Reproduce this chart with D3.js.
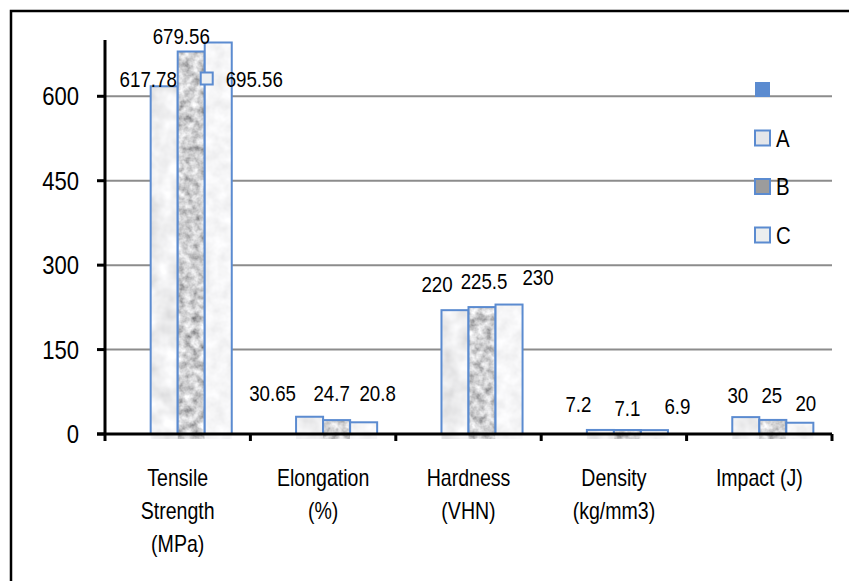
<!DOCTYPE html>
<html>
<head>
<meta charset="utf-8">
<script src="https://cdn.jsdelivr.net/npm/d3@7"></script>
<style>
  body { margin: 0; background: #fff; }
  svg text { font-family: "Liberation Sans", Arial, sans-serif; fill: #000; }
</style>
</head>
<body>
<div id="chart"></div>
<script>
// values
var categories = ["Tensile Strength (MPa)", "Elongation (%)", "Hardness (VHN)", "Density (kg/mm3)", "Impact (J)"];
var categoryLines = [["Tensile", "Strength", "(MPa)"], ["Elongation", "(%)"], ["Hardness", "(VHN)"], ["Density", "(kg/mm3)"], ["Impact (J)"]];
var seriesNames = ["", "A", "B", "C"];
var valuesA = [617.78, 30.65, 220, 7.2, 30];
var valuesB = [679.56, 24.7, 225.5, 7.1, 25];
var valuesC = [695.56, 20.8, 230, 6.9, 20];
var yTicks = [0, 150, 300, 450, 600];

var width = 849, height = 581;
var margin = { top: 40, left: 105, right: 17, bottom: 147 };
var blue = "#5b8bd0";
var squeeze = 0.85; // the original font is narrower than Arial

// place a text at (x, y) and squeeze it horizontally
const at = (x, y) => `translate(${x},${y}) scale(${squeeze},1)`;

var svg = d3.select("#chart").append("svg")
  .attr("width", width)
  .attr("height", height);

// textures for the three series
var defs = svg.append("defs");
var tex = [
  { id: "texA", a: 0.45, b: 0.64, f: 0.05, seed: 3 },
  { id: "texB", a: 1.1, b: 0.08, f: 0.13, seed: 7 },
  { id: "texC", a: 0.22, b: 0.81, f: 0.08, seed: 11 }
];
tex.forEach(t => {
  var f = defs.append("filter").attr("id", t.id)
    .attr("x", 0).attr("y", 0).attr("width", 1).attr("height", 1);
  f.append("feTurbulence").attr("type", "fractalNoise")
    .attr("baseFrequency", t.f).attr("numOctaves", 3).attr("seed", t.seed).attr("result", "n");
  var m = `${t.a} 0 0 0 ${t.b} ${t.a} 0 0 0 ${t.b} ${t.a} 0 0 0 ${t.b + 0.01} 0 0 0 0 1`;
  f.append("feColorMatrix").attr("in", "n").attr("type", "matrix").attr("values", m).attr("result", "g");
  f.append("feComposite").attr("in", "g").attr("in2", "SourceGraphic").attr("operator", "in");
});

// outer frame (cut off on the right and bottom)
svg.append("path")
  .attr("d", `M11,${height + 5}V11H${width + 5}`)
  .attr("fill", "none").attr("stroke", "#000").attr("stroke-width", 2.5);

var x0 = d3.scaleBand().domain(categories).range([margin.left, width - margin.right]);
var x1 = d3.scaleBand().domain(seriesNames).range([0, x0.bandwidth()]).paddingOuter(0.69);
var y = d3.scaleLinear().domain([0, 700]).range([height - margin.bottom, margin.top]);

// gridlines
svg.append("g").selectAll("line")
  .data(yTicks.filter(d => d > 0))
  .join("line")
  .attr("x1", margin.left).attr("x2", width - margin.right)
  .attr("y1", d => y(d)).attr("y2", d => y(d))
  .attr("stroke", "#8c8c8c").attr("stroke-width", 2);

// bars
var series = [
  { name: "A", values: valuesA, tex: "texA" },
  { name: "B", values: valuesB, tex: "texB" },
  { name: "C", values: valuesC, tex: "texC" }
];
var barData = [];
series.forEach((s, j) => {
  s.values.forEach((v, i) => barData.push({ cat: categories[i], ci: i, sj: j, name: s.name, value: v, tex: s.tex }));
});

var bars = svg.append("g").selectAll("g").data(barData).join("g");
bars.append("rect")
  .attr("x", d => x0(d.cat) + x1(d.name))
  .attr("y", d => y(d.value))
  .attr("width", x1.bandwidth())
  .attr("height", d => y(0) - y(d.value) + 5)
  .attr("fill", "#ccc")
  .attr("filter", d => `url(#${d.tex})`);
bars.append("rect")
  .attr("x", d => x0(d.cat) + x1(d.name))
  .attr("y", d => y(d.value))
  .attr("width", x1.bandwidth())
  .attr("height", d => y(0) - y(d.value))
  .attr("fill", "none")
  .attr("stroke", blue).attr("stroke-width", 2);

// data labels, nudged like the original [dx, dy] from bar top-centre
var labelNudge = [
  [[-16, 1], [-10, -8], [36, 45]],
  [[-37, -16], [-5, -19], [14, -21]],
  [[-18, -18], [2, -18], [29, -20]],
  [[-22, -18], [0, -14], [23, -16]],
  [[-8, -14], [-1, -17], [6, -12]]
];
svg.append("g").selectAll("text").data(barData).join("text")
  .attr("transform", d => at(
    x0(d.cat) + x1(d.name) + x1.bandwidth() / 2 + labelNudge[d.ci][d.sj][0],
    y(d.value) + labelNudge[d.ci][d.sj][1]))
  .attr("text-anchor", "middle")
  .style("font-size", "22px")
  .text(d => d.value);

// stray legend key next to the 695.56 label
svg.append("rect")
  .attr("x", x0(categories[0]) + x1("C") - 4)
  .attr("y", y(valuesC[0]) + 30)
  .attr("width", 12).attr("height", 12)
  .attr("fill", "#eef0f2").attr("stroke", blue).attr("stroke-width", 2);

// y axis
var yAxis = svg.append("g");
yAxis.append("line")
  .attr("x1", margin.left).attr("x2", margin.left)
  .attr("y1", margin.top).attr("y2", y(0))
  .attr("stroke", "#000").attr("stroke-width", 3);
yAxis.selectAll(".tk").data(yTicks).join("line")
  .attr("x1", margin.left - 8).attr("x2", margin.left)
  .attr("y1", d => y(d)).attr("y2", d => y(d))
  .attr("stroke", "#000").attr("stroke-width", 3);
yAxis.selectAll("text").data(yTicks).join("text")
  .attr("transform", d => at(margin.left - 26, y(d)))
  .attr("dy", "0.35em")
  .attr("text-anchor", "end")
  .style("font-size", "26px")
  .text(d => d);

// x axis
var xAxis = svg.append("g");
xAxis.append("line")
  .attr("x1", margin.left - 8).attr("x2", width - margin.right)
  .attr("y1", y(0)).attr("y2", y(0))
  .attr("stroke", "#000").attr("stroke-width", 3);
var bounds = categories.map(c => x0(c)).concat([width - margin.right]);
xAxis.selectAll(".tk").data(bounds).join("line")
  .attr("x1", d => d).attr("x2", d => d)
  .attr("y1", y(0)).attr("y2", y(0) + 7)
  .attr("stroke", "#000").attr("stroke-width", 3);
xAxis.selectAll("text").data(categories).join("text")
  .attr("transform", d => at(x0(d) + x0.bandwidth() / 2, y(0) + 52))
  .attr("text-anchor", "middle")
  .style("font-size", "23px")
  .each(function (d, i) {
    var t = d3.select(this);
    categoryLines[i].forEach((ln, k) => {
      t.append("tspan")
        .attr("x", 0)
        .attr("dy", k === 0 ? 0 : 33)
        .text(ln);
    });
  });

// legend
var legFill = { "": blue, "A": "#e4e6ea", "B": "#9c9c9c", "C": "#eceeee" };
var leg = svg.append("g").attr("transform", "translate(755,82)");
var li = leg.selectAll("g").data(seriesNames).join("g")
  .attr("transform", (d, i) => `translate(0,${i * 48.5})`);
li.append("rect")
  .attr("width", 15).attr("height", 15)
  .attr("fill", d => legFill[d])
  .attr("stroke", d => d === "" ? "none" : blue)
  .attr("stroke-width", 2);
li.append("text")
  .attr("transform", at(21, 16))
  .style("font-size", "24px")
  .text(d => d);
</script>
</body>
</html>
